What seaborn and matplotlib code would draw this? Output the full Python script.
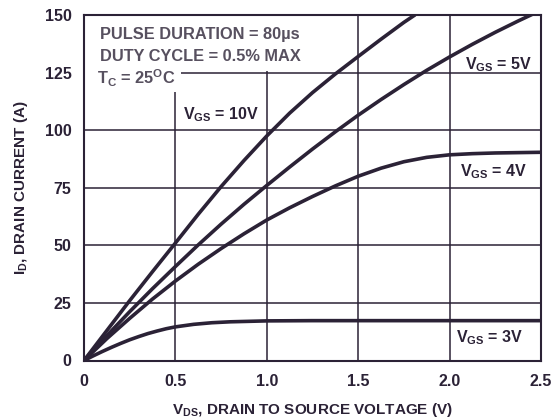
import pandas as pd
import seaborn as sns
import matplotlib.pyplot as plt
from matplotlib.patches import Rectangle

# curve values (V, A)
vds_10v = [0, 0.125, 0.25, 0.375, 0.5, 0.625, 0.75, 0.875, 1.0, 1.125, 1.25,
           1.375, 1.5, 1.625, 1.75, 1.81]
id_10v = [0, 13, 26, 38.6, 51, 63.5, 75.5, 86.8, 97.5, 107.4, 116.3,
          124.4, 132, 139.5, 146.8, 150]

vds_5v = [0, 0.125, 0.25, 0.375, 0.5, 0.625, 0.75, 0.875, 1.0, 1.125, 1.25,
          1.375, 1.5, 1.625, 1.75, 1.875, 2.0, 2.125, 2.25, 2.375, 2.45]
id_5v = [0, 10.8, 21.2, 31.2, 40.8, 50.2, 59.2, 67.8, 76, 84, 91.8,
         99.3, 106.5, 113.3, 119.8, 126, 131.8, 137.3, 142.5, 147.4, 150.2]

vds_4v = [0, 0.125, 0.25, 0.375, 0.5, 0.625, 0.75, 0.875, 1.0, 1.125, 1.25,
          1.375, 1.5, 1.625, 1.75, 1.875, 2.0, 2.125, 2.25, 2.5]
id_4v = [0, 9.5, 18.3, 26.7, 34.5, 41.8, 48.6, 55, 61, 66.3, 71.2,
         75.8, 80, 83.5, 86.3, 88.2, 89.3, 89.8, 90.1, 90.4]

vds_3v = [0, 0.05, 0.1, 0.15, 0.2, 0.25, 0.3, 0.35, 0.4, 0.45, 0.5, 0.6,
          0.7, 0.8, 0.9, 1.0, 1.25, 2.5]
id_3v = [0, 2, 3.9, 5.7, 7.4, 9, 10.4, 11.7, 12.8, 13.8, 14.6, 15.7,
         16.4, 16.8, 17.0, 17.2, 17.3, 17.3]

curve_names = ["10V", "5V", "4V", "3V"]
xticks = [0, 0.5, 1.0, 1.5, 2.0, 2.5]
xtick_labels = ["0", "0.5", "1.0", "1.5", "2.0", "2.5"]
yticks = [0, 25, 50, 75, 100, 125, 150]

# label anchors (V, A)
label_pos = {"10V": (0.75, 104.8), "5V": (2.27, 126.4), "4V": (2.24, 79.9), "3V": (2.22, 7.7)}

frames = []
for name, xs, ys in zip(curve_names, [vds_10v, vds_5v, vds_4v, vds_3v],
                        [id_10v, id_5v, id_4v, id_3v]):
    frames.append(pd.DataFrame({"vds": xs, "id": ys, "vgs": name}))
df = pd.concat(frames, ignore_index=True)

sns.set_style("white")
plt.rcParams["font.family"] = ["Liberation Sans", "DejaVu Sans"]
plt.rcParams["font.weight"] = "bold"
plt.rcParams["mathtext.fontset"] = "custom"
plt.rcParams["mathtext.rm"] = "Liberation Sans:bold"
plt.rcParams["mathtext.it"] = "Liberation Sans:bold"
plt.rcParams["mathtext.bf"] = "Liberation Sans:bold"
plt.rcParams["mathtext.default"] = "rm"

ink = "#2b2236"
grey = "#57505f"

fig = plt.figure(figsize=(5.54, 4.18), dpi=100)
ax = fig.add_axes([84 / 554, 1 - 360.5 / 418, 457 / 554, 345.5 / 418])

sns.lineplot(data=df, x="vds", y="id", hue="vgs", palette=[ink] * 4,
             sort=False, estimator=None, legend=False, lw=2.6, ax=ax)

ax.set_xlim(0, 2.5)
ax.set_ylim(0, 150)
ax.set_xticks(xticks)
ax.set_xticklabels(xtick_labels)
ax.set_yticks(yticks)
ax.tick_params(length=0, labelsize=11.5, labelcolor=ink)
ax.tick_params(axis="x", pad=10)
ax.tick_params(axis="y", pad=9)
ax.set_axisbelow(True)
ax.grid(True, color=ink, lw=1.1)
for s in ax.spines.values():
    s.set_color(ink)
    s.set_linewidth(1.5)

ax.set_xlabel("V$_{DS}$, DRAIN TO SOURCE VOLTAGE (V)", fontsize=11,
              fontweight="bold", color=ink)
ax.set_ylabel("I$_{D}$, DRAIN CURRENT (A)", fontsize=11,
              fontweight="bold", color=ink)
ax.xaxis.set_label_coords(0.5, -0.117)
ax.yaxis.set_label_coords(-0.118, 0.5)

# white patches behind the test-condition note
ax.add_patch(Rectangle((0, 0.838), 0.473, 0.162, transform=ax.transAxes,
                       fc="white", ec="none", zorder=1))
ax.add_patch(Rectangle((0, 0.777), 0.212, 0.07, transform=ax.transAxes,
                       fc="white", ec="none", zorder=1))

ax.text(0.087, 139.5, "PULSE DURATION = 80\u00b5s", fontsize=11.8, color=grey, zorder=3)
ax.text(0.087, 130, "DUTY CYCLE = 0.5% MAX", fontsize=11.8, color=grey, zorder=3)
ax.text(0.071, 120, "T$_{C}$ = 25$^{O}$C", fontsize=11.8, color=grey, zorder=3)

for name in curve_names:
    x, y = label_pos[name]
    ax.text(x, y, "V$_{GS}$ = " + name, fontsize=11.5, color=ink,
            ha="center", va="baseline", zorder=3)

fig.savefig("out.png", dpi=100)
